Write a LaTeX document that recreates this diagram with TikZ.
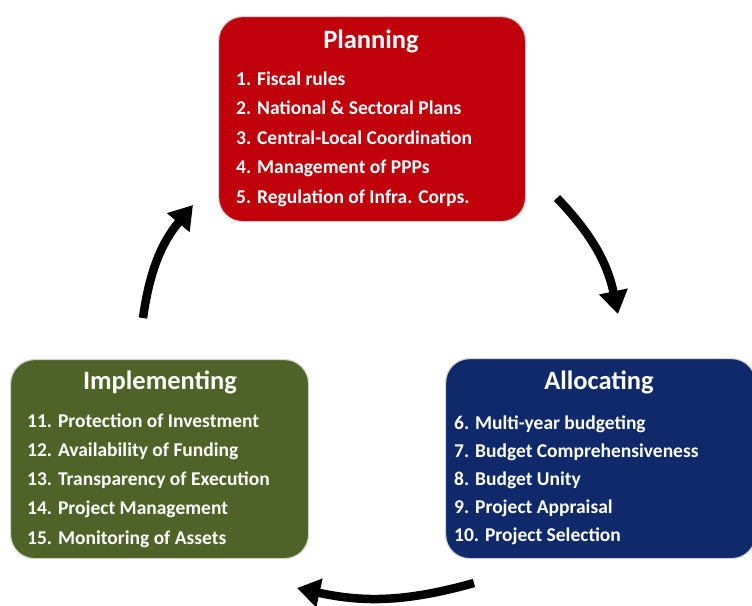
\documentclass[tikz,border=0pt]{standalone}
\usepackage{fontspec}
\setmainfont{Carlito}
\usetikzlibrary{arrows.meta}
\definecolor{planred}{HTML}{C0000A}
\definecolor{allocblue}{HTML}{0F296B}
\definecolor{implgreen}{HTML}{4F6228}
\begin{document}
\begin{tikzpicture}[x=1pt,y=-1pt,
  stagebox/.style={rounded corners=24pt, draw=gray!35, line width=1.2pt, anchor=north west, inner sep=0pt},
  stagetitle/.style={text=white, font=\bfseries\fontsize{26.5}{30}\selectfont, anchor=base, inner sep=0pt},
  stageitem/.style={text=white, font=\bfseries\fontsize{19.5}{22}\selectfont, anchor=base west, inner sep=0pt},
  cyc/.style={line width=8.5pt, -{Triangle[length=23pt,width=28pt]}}]
\useasboundingbox (0,0) rectangle (752,605);
% boxes
\node[stagebox, fill=planred, minimum width=307pt, minimum height=205pt] (plan) at (218,16) {};
\node[stagebox, fill=implgreen, minimum width=298pt, minimum height=199pt] (impl) at (10,359) {};
\node[stagebox, fill=allocblue, minimum width=310pt, minimum height=200pt] (alloc) at (445,358) {};
% titles
\node[stagetitle] (plant) at (371,48) {Planning};
\node[stagetitle] (implt) at (160,389) {Implementing};
\node[stagetitle] (alloct) at (599,389) {Allocating};
% planning items
\foreach \t [count=\i] in {1. Fiscal rules, 2. National \& Sectoral Plans, 3. Central-Local Coordination, 4. Management of PPPs, 5. Regulation of Infra. Corps.}
  \node[stageitem] (p\i) at (236,{85+29.5*(\i-1)}) {\t};
% implementing items
\foreach \t [count=\i] in {11. Protection of Investment, 12. Availability of Funding, 13. Transparency of Execution, 14. Project Management, 15. Monitoring of Assets}
  \node[stageitem] (m\i) at (27,{427+29.3*(\i-1)}) {\t};
% allocating items
\foreach \t [count=\i] in {6. Multi-year budgeting, 7. Budget Comprehensiveness, 8. Budget Unity, 9. Project Appraisal, 10. Project Selection}
  \node[stageitem] (a\i) at (454,{429+28*(\i-1)}) {\t};
% arrows
\coordinate (r1) at (557,198);
\coordinate (r2) at (618,314);
\coordinate (b1) at (474,583);
\coordinate (b2) at (297,588);
\coordinate (l1) at (143,318);
\coordinate (l2) at (193,205);
\draw[cyc] (r1) to[bend left=16] (r2);
\draw[cyc] (b1) to[bend left=14] (b2);
\draw[cyc] (l1) to[bend left=16] (l2);
\end{tikzpicture}
\end{document}
